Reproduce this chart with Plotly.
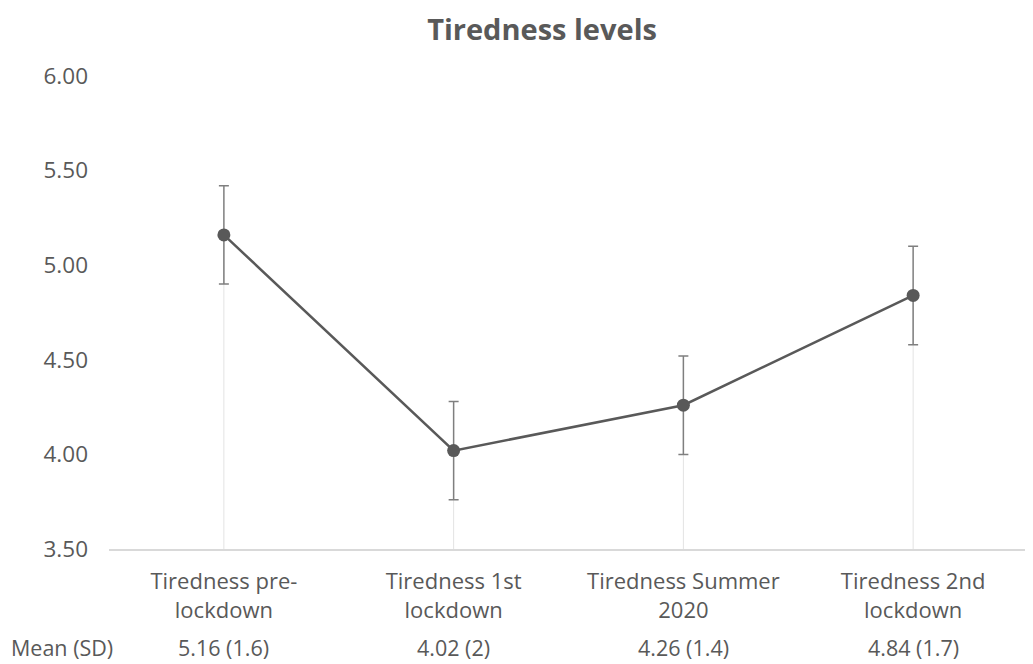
import plotly.graph_objects as go

categories = ["Tiredness pre-<br>lockdown", "Tiredness 1st<br>lockdown",
              "Tiredness Summer<br>2020", "Tiredness 2nd<br>lockdown"]
means = [5.16, 4.02, 4.26, 4.84]
errors = [0.26, 0.26, 0.26, 0.26]
mean_sd_labels = ["5.16 (1.6)", "4.02 (2)", "4.26 (1.4)", "4.84 (1.7)"]
y_ticks = [3.5, 4.0, 4.5, 5.0, 5.5, 6.0]
y_min, y_max = 3.5, 6.0

FONT = "Open Sans"
GRAY = "#595959"

x_idx = list(range(len(categories)))

fig = go.Figure()

# drop lines from points to the category axis
fig.add_trace(go.Scatter(
    x=x_idx, y=means, mode="markers",
    marker=dict(size=1, color="rgba(0,0,0,0)"),
    error_y=dict(type="data", symmetric=False,
                 array=[0] * len(means),
                 arrayminus=[m - y_min for m in means],
                 color="#e3e3e3", thickness=1, width=0),
    hoverinfo="skip", showlegend=False,
))

fig.add_trace(go.Scatter(
    x=x_idx, y=means, mode="lines+markers",
    line=dict(color=GRAY, width=2.5),
    marker=dict(size=13, color=GRAY),
    error_y=dict(type="data", array=errors, color="#7f7f7f",
                 thickness=1.5, width=5),
    showlegend=False,
))

annotations = [
    dict(x=i, y=0, xref="x", yref="paper", text=t, showarrow=False,
         yshift=-98, yanchor="middle",
         font=dict(family=FONT, size=21.5, color=GRAY))
    for i, t in zip(x_idx, mean_sd_labels)
]
annotations.append(dict(x=-0.051, y=0, xref="paper", yref="paper", text="Mean (SD)",
                        showarrow=False, yshift=-98, xanchor="center", yanchor="middle",
                        font=dict(family=FONT, size=21.5, color=GRAY)))

fig.update_layout(
    width=1025, height=656,
    margin=dict(l=101, r=5, t=68, b=115),
    paper_bgcolor="white", plot_bgcolor="white",
    title=dict(text="<b>Tiredness levels</b>", x=0.521, xref="container",
               y=0.966, yref="container", xanchor="center", yanchor="middle",
               font=dict(family=FONT, size=29, color=GRAY)),
    xaxis=dict(tickmode="array", tickvals=x_idx, ticktext=categories,
               range=[-0.5, len(categories) - 0.5],
               showgrid=False, zeroline=False, showline=True,
               linecolor="#d9d9d9", linewidth=1.5, ticks="",
               ticklabelstandoff=12,
               tickfont=dict(family=FONT, size=22, color=GRAY)),
    yaxis=dict(range=[y_min, y_max], tickvals=y_ticks,
               tickformat=".2f", showgrid=False, zeroline=False,
               showline=False, ticks="", ticklabelstandoff=20,
               tickfont=dict(family=FONT, size=22.5, color=GRAY)),
    annotations=annotations,
)

fig.write_html("out.html")
